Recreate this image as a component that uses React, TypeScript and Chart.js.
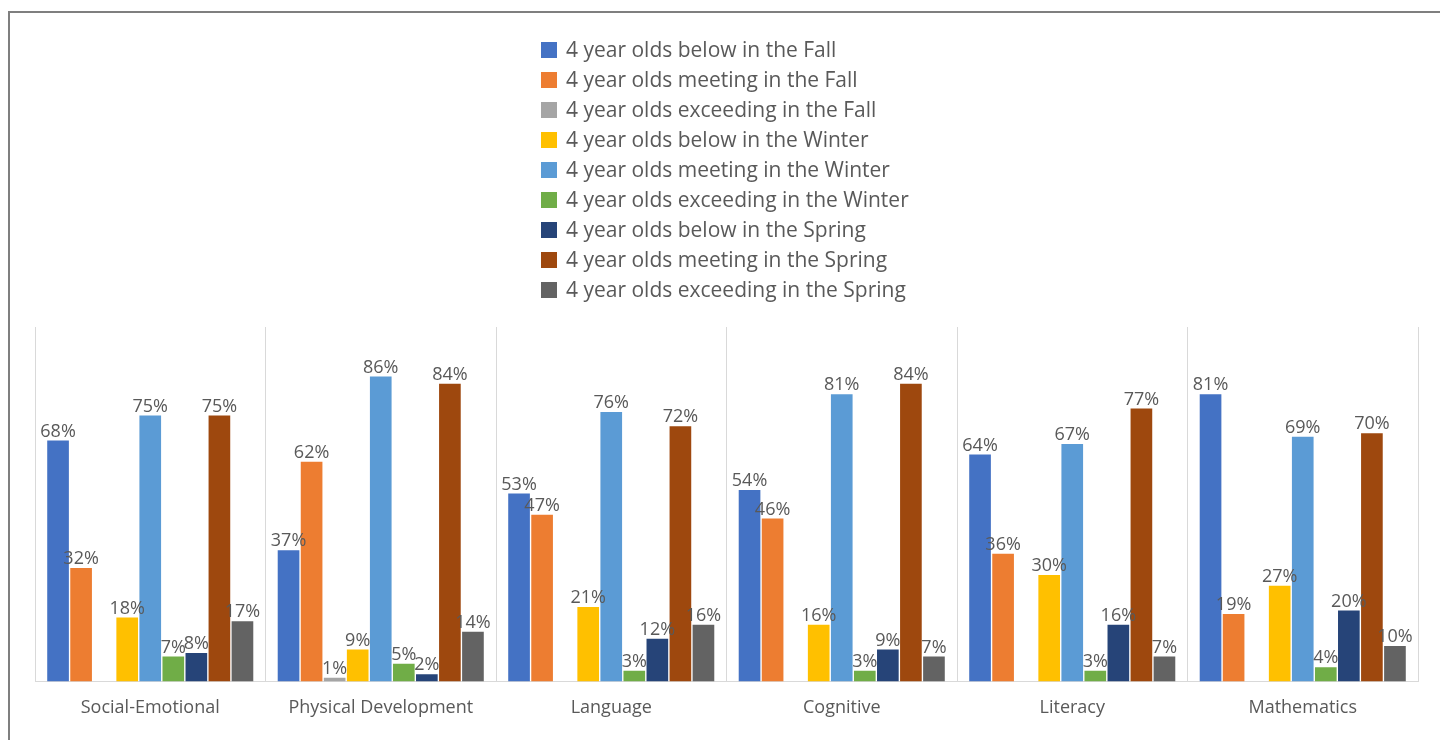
import React, { useEffect, useRef } from "react";
import { Chart, registerables } from "chart.js";

Chart.register(...registerables);

const categories = ["Social-Emotional", "Physical Development", "Language", "Cognitive", "Literacy", "Mathematics"];

const seriesNames = [
  "4 year olds below in the Fall",
  "4 year olds meeting in the Fall",
  "4 year olds exceeding in the Fall",
  "4 year olds below in the Winter",
  "4 year olds meeting in the Winter",
  "4 year olds exceeding in the Winter",
  "4 year olds below in the Spring",
  "4 year olds meeting in the Spring",
  "4 year olds exceeding in the Spring",
];

const belowFall = [68, 37, 53, 54, 64, 81];
const meetingFall = [32, 62, 47, 46, 36, 19];
const exceedingFall = [null, 1, null, null, null, null];
const belowWinter = [18, 9, 21, 16, 30, 27];
const meetingWinter = [75, 86, 76, 81, 67, 69];
const exceedingWinter = [7, 5, 3, 3, 3, 4];
const belowSpring = [8, 2, 12, 9, 16, 20];
const meetingSpring = [75, 84, 72, 84, 77, 70];
const exceedingSpring = [17, 14, 16, 7, 7, 10];

const seriesValues = [
  belowFall, meetingFall, exceedingFall,
  belowWinter, meetingWinter, exceedingWinter,
  belowSpring, meetingSpring, exceedingSpring,
];

const colors = ["#4472C4", "#ED7D31", "#A5A5A5", "#FFC000", "#5B9BD5", "#70AD47", "#264478", "#9E480E", "#636363"];

const FONT = "'Open Sans', 'Noto Sans', sans-serif";
const TEXT = "#595959";

const dataLabelPlugin = {
  id: "dataLabels",
  afterDatasetsDraw(chart: any) {
    const ctx = chart.ctx;
    ctx.save();
    ctx.font = `18px ${FONT}`;
    ctx.fillStyle = TEXT;
    ctx.textAlign = "center";
    ctx.textBaseline = "bottom";
    chart.data.datasets.forEach((ds: any, i: number) => {
      const meta = chart.getDatasetMeta(i);
      meta.data.forEach((el: any, j: number) => {
        const v = ds.data[j];
        if (v === null || v === undefined) return;
        ctx.fillText(`${v}%`, el.x, el.y);
      });
    });
    ctx.restore();
  },
};

const legendPlugin = {
  id: "vertLegend",
  afterDraw(chart: any) {
    const ctx = chart.ctx;
    ctx.save();
    ctx.font = `21px ${FONT}`;
    let maxW = 0;
    seriesNames.forEach((n) => { maxW = Math.max(maxW, ctx.measureText(n).width); });
    const box = 16;
    const gap = 9;
    const total = box + gap + maxW;
    const x0 = Math.round(chart.width / 2 + 5 - total / 2);
    const y0 = 50;
    const step = 30;
    ctx.textBaseline = "middle";
    ctx.textAlign = "left";
    seriesNames.forEach((n, i) => {
      const yc = y0 + i * step;
      ctx.fillStyle = colors[i];
      ctx.fillRect(x0, yc - box / 2, box, box);
      ctx.fillStyle = TEXT;
      ctx.fillText(n, x0 + box + gap, yc + 1);
    });
    ctx.restore();
  },
};

export default function App() {
  const ref = useRef<HTMLCanvasElement>(null);
  useEffect(() => {
    if (!ref.current) return;
    const chart = new Chart(ref.current, {
      type: "bar",
      data: {
        labels: categories,
        datasets: seriesNames.map((name, i) => ({
          label: name,
          data: seriesValues[i] as any,
          backgroundColor: colors[i],
          borderWidth: 0,
          categoryPercentage: 0.9,
          barPercentage: 0.94,
        })),
      },
      options: {
        animation: false,
        responsive: false,
        maintainAspectRatio: false,
        layout: { padding: { left: 35, right: 22, top: 327, bottom: 5 } },
        plugins: {
          legend: { display: false },
          tooltip: { enabled: false },
        },
        scales: {
          x: {
            grid: { display: true, color: "#D9D9D9", offset: true, drawTicks: false },
            border: { display: true, color: "#D9D9D9" },
            ticks: { color: TEXT, font: { family: FONT, size: 18 }, padding: 16 },
          },
          y: {
            display: false,
            min: 0,
            max: 100,
          },
        },
      },
      plugins: [dataLabelPlugin, legendPlugin],
    });
    return () => chart.destroy();
  }, []);
  return (
    <div style={{ position: "absolute", left: 0, top: 0, width: 1440, height: 740, background: "#fff", overflow: "hidden" }}>
      <div style={{ position: "absolute", left: 8, top: 11, width: 1440, height: 740, borderTop: "2px solid #7F7F7F", borderLeft: "2px solid #7F7F7F" }} />
      <canvas ref={ref} width={1440} height={740} style={{ position: "absolute", left: 0, top: 0 }} />
    </div>
  );
}
